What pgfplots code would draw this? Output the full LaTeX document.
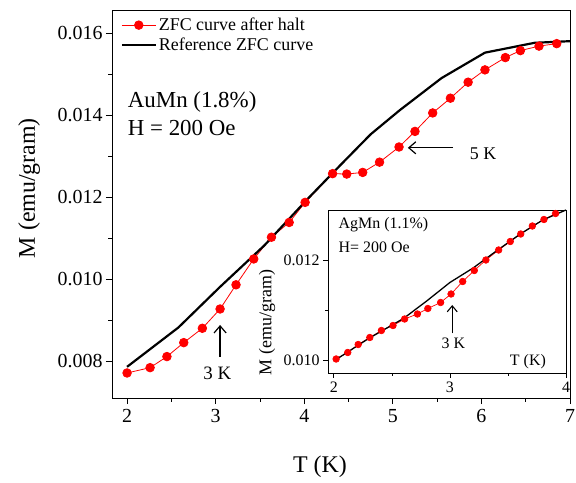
\documentclass[border=0pt]{standalone}
\usepackage{fontspec}
\setmainfont{Liberation Serif}
\usepackage{pgfplots}
\pgfplotsset{compat=1.18}
\usetikzlibrary{arrows.meta}

\pgfplotstableread{
x y
2.00 0.00771
2.26 0.00784
2.45 0.00811
2.64 0.00845
2.85 0.00880
3.05 0.00927
3.23 0.00986
3.43 0.01049
3.63 0.01102
3.83 0.01138
4.01 0.01187
4.32 0.01257
4.48 0.01256
4.66 0.01260
4.85 0.01285
5.07 0.01322
5.25 0.01360
5.45 0.01405
5.65 0.01441
5.85 0.01480
6.04 0.01510
6.27 0.01540
6.44 0.01557
6.65 0.01568
6.85 0.01574
}\mainred
\pgfplotstableread{
x y
2.00 0.00786
2.58 0.00882
3.05 0.00981
3.55 0.01082
4.05 0.01198
4.40 0.01276
4.75 0.01353
5.08 0.01412
5.55 0.01490
6.04 0.01552
6.60 0.01576
7.00 0.01580
}\mainblack
\pgfplotstableread{
x y
2.02 0.01002
2.12 0.01015
2.21 0.01031
2.31 0.01045
2.41 0.01059
2.51 0.01069
2.61 0.01082
2.72 0.01092
2.81 0.01103
2.92 0.01115
3.01 0.01132
3.11 0.01157
3.21 0.01179
3.31 0.01200
3.42 0.01220
3.52 0.01237
3.61 0.01252
3.71 0.01268
3.81 0.01281
3.91 0.01293
}\insetred
\pgfplotstableread{
x y
2.00 0.00998
2.30 0.01043
2.60 0.01083
2.80 0.01118
3.00 0.01155
3.20 0.01184
3.40 0.01218
3.60 0.01251
3.80 0.01280
4.00 0.01300
}\insetblack

\begin{document}
\begin{tikzpicture}
\path[use as bounding box] (0bp,0bp) rectangle (576bp,483bp);
\begin{axis}[
  at={(112bp,85bp)}, anchor=south west,
  scale only axis, width=458bp, height=388bp,
  xmin=1.83, xmax=7, ymin=0.0071, ymax=0.01656,
  xtick={2,3,4,5,6,7}, minor xtick={2.5,3.5,4.5,5.5,6.5},
  ytick={0.008,0.010,0.012,0.014,0.016}, minor ytick={0.009,0.011,0.013,0.015},
  scaled y ticks=false,
  yticklabel style={/pgf/number format/.cd, fixed, fixed zerofill, precision=3},
  /pgf/number format/assume math mode=true,
  tick align=outside, xtick pos=bottom, ytick pos=left,
  major tick length=6bp, minor tick length=3.5bp,
  axis line style={line width=1pt}, tick style={line width=0.8pt, black},
  tick label style={font=\fontsize{20}{24}\selectfont},
  xticklabel style={yshift=-2bp},
  xlabel={T (K)}, ylabel={M (emu/gram)},
  xlabel style={at={(axis description cs:0.454,-0.178)}, anchor=center, font=\fontsize{24}{28}\selectfont},
  ylabel style={at={(axis description cs:-0.181,0.541)}, anchor=center, font=\fontsize{24}{28}\selectfont},
  legend style={at={(axis description cs:0.012,0.99)}, anchor=north west, draw=none, fill=none,
    font=\fontsize{18}{21}\selectfont, row sep=2bp},
  legend cell align=left,
  legend image code/.code={\draw[mark repeat=2,mark phase=2,#1] plot coordinates {(0bp,0bp) (17bp,0bp) (34bp,0bp)};},
]
\addplot[red, line width=0.8pt, mark=*, mark size=4.3bp, mark options={fill=red, draw=red}] table {\mainred};
\addlegendentry{ZFC curve after halt}
\addplot[black, line width=2.2pt] table {\mainblack};
\addlegendentry{Reference ZFC curve}
\node[anchor=west, font=\fontsize{23}{26}\selectfont] at (axis description cs:0.027,0.763) {AuMn (1.8\%)};
\node[anchor=west, font=\fontsize{23}{26}\selectfont] at (axis description cs:0.027,0.696) {H = 200 Oe};
\draw[-{Straight Barb[length=7bp, width=12bp]}, line width=1.2pt] (axis cs:5.68,0.0132) -- (axis cs:5.17,0.0132);
\node[font=\fontsize{18}{21}\selectfont] at (axis cs:6.02,0.01305) {5 K};
\draw[-{Straight Barb[length=7bp, width=12bp]}, line width=1.2pt] (axis cs:3.05,0.0081) -- (axis cs:3.05,0.00888);
\node[font=\fontsize{19}{22}\selectfont] at (axis cs:3.02,0.0077) {3 K};
\end{axis}
\begin{axis}[
  at={(328bp,110bp)}, anchor=south west,
  scale only axis, width=238bp, height=163bp,
  axis background/.style={fill=white},
  xmin=1.95, xmax=4.0, ymin=0.00974, ymax=0.0130,
  xtick={2,3,4}, minor xtick={2.5,3.5},
  ytick={0.010,0.012}, minor ytick={0.011},
  scaled y ticks=false,
  yticklabel style={/pgf/number format/.cd, fixed, fixed zerofill, precision=3},
  /pgf/number format/assume math mode=true,
  tick align=outside, xtick pos=bottom, ytick pos=left,
  major tick length=5bp, minor tick length=3bp,
  axis line style={line width=0.9pt}, tick style={line width=0.7pt, black},
  tick label style={font=\fontsize{16}{19}\selectfont},
  xlabel={T (K)}, ylabel={M (emu/gram)},
  xlabel style={at={(axis description cs:0.84,0.067)}, anchor=center, font=\fontsize{16}{19}\selectfont},
  ylabel style={at={(axis description cs:-0.256,0.31)}, anchor=center, font=\fontsize{18}{21}\selectfont},
]
\addplot[red, line width=0.7pt, mark=*, mark size=3.3bp, mark options={fill=red, draw=red}] table {\insetred};
\addplot[black, line width=1.3pt] table {\insetblack};
\node[anchor=west, font=\fontsize{16}{19}\selectfont] at (axis description cs:0.03,0.908) {AgMn (1.1\%)};
\node[anchor=west, font=\fontsize{16}{19}\selectfont] at (axis description cs:0.03,0.773) {H= 200 Oe};
\draw[-{Straight Barb[length=6bp, width=10bp]}, line width=1.1pt] (axis cs:3.02,0.01053) -- (axis cs:3.02,0.0111);
\node[font=\fontsize{16}{19}\selectfont] at (axis cs:3.03,0.01033) {3 K};
\end{axis}
\end{tikzpicture}
\end{document}
